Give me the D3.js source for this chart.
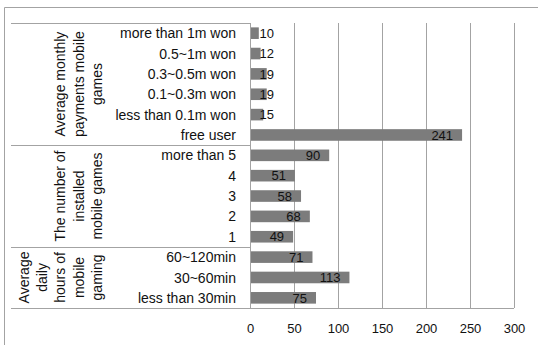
<!DOCTYPE html>
<html>
<head>
<meta charset="utf-8">
<script src="https://cdn.jsdelivr.net/npm/d3@7"></script>
<style>
  html, body { margin: 0; padding: 0; background: #fff; }
  svg { display: block; }
  text { font-family: "Liberation Sans", Arial, sans-serif; fill: #111; }
</style>
</head>
<body>
<svg id="chart" width="538" height="345"></svg>
<script>
// Survey results: three grouped question blocks
const paymentCats = ["more than 1m won", "0.5~1m won", "0.3~0.5m won", "0.1~0.3m won", "less than 0.1m won", "free user"];
const paymentVals = [10, 12, 19, 19, 15, 241];
const installCats = ["more than 5", "4", "3", "2", "1"];
const installVals = [90, 51, 58, 68, 49];
const hoursCats = ["60~120min", "30~60min", "less than 30min"];
const hoursVals = [71, 113, 75];
const groupTitles = [
  ["Average monthly", "payments mobile", "games"],
  ["The number of", "installed", "mobile games"],
  ["Average", "daily", "hours of", "mobile", "gaming"]
];
const xTicks = [0, 50, 100, 150, 200, 250, 300];

const groups = [
  { title: groupTitles[0], cats: paymentCats, vals: paymentVals },
  { title: groupTitles[1], cats: installCats, vals: installVals },
  { title: groupTitles[2], cats: hoursCats, vals: hoursVals }
];
const rows = [];
groups.forEach((g, gi) => g.cats.forEach((c, i) => rows.push({ key: gi + "|" + c, cat: c, value: g.vals[i], group: gi })));

const svg = d3.select("#chart");
const lineColor = "#a3a3a3";
const barColor = "#7c7c7c";

// Chart frame
svg.append("path")
  .attr("d", "M4.5,345 V7.5 H538")
  .attr("fill", "none").attr("stroke", lineColor).attr("stroke-width", 1);

const plotLeft = 250, plotRight = 514, plotTop = 23, plotBottom = 308;
const tableLeft = 11;

const x = d3.scaleLinear().domain([0, 300]).range([plotLeft, plotRight]);
const y = d3.scaleBand().domain(rows.map(r => r.key)).range([plotTop, plotBottom])
  .paddingInner(0.43).paddingOuter(0.215);

// Vertical gridlines
svg.append("g").selectAll("line").data(xTicks.slice(1)).join("line")
  .attr("x1", d => Math.round(x(d)) + 0.5).attr("x2", d => Math.round(x(d)) + 0.5)
  .attr("y1", plotTop).attr("y2", plotBottom)
  .attr("stroke", lineColor);

// Category table lines: top, group separators, bottom axis line
const step = y.step();
const sepYs = [plotTop];
let acc = 0;
groups.forEach(g => { acc += g.cats.length; sepYs.push(plotTop + acc * step); });
svg.append("g").selectAll("line").data(sepYs).join("line")
  .attr("x1", tableLeft)
  .attr("x2", (d, i) => i === sepYs.length - 1 ? plotRight : plotLeft)
  .attr("y1", d => Math.round(d) + 0.5).attr("y2", d => Math.round(d) + 0.5)
  .attr("stroke", lineColor);

// Value axis line (left)
svg.append("line")
  .attr("x1", plotLeft + 0.5).attr("x2", plotLeft + 0.5)
  .attr("y1", plotTop).attr("y2", plotBottom)
  .attr("stroke", lineColor);

// Bars
svg.append("g").selectAll("rect").data(rows).join("rect")
  .attr("x", x(0) + 1)
  .attr("y", d => y(d.key))
  .attr("width", d => x(d.value) - x(0) - 1)
  .attr("height", y.bandwidth())
  .attr("fill", barColor);

// Data labels, inside the bar end
svg.append("g").selectAll("text").data(rows).join("text")
  .attr("x", d => Math.max(x(d.value) - 9, x(0) + 24))
  .attr("y", d => y(d.key) + y.bandwidth() / 2)
  .attr("dy", "0.36em")
  .attr("text-anchor", "end")
  .style("font-size", "13px")
  .text(d => d.value);

// Category labels
svg.append("g").selectAll("text").data(rows).join("text")
  .attr("x", 236)
  .attr("y", d => y(d.key) + y.bandwidth() / 2)
  .attr("dy", "0.36em")
  .attr("text-anchor", "end")
  .style("font-size", "14px")
  .text(d => d.cat);

// Rotated group titles
const lineGap = 18.3;
const lastLineX = 97;
groups.forEach((g, gi) => {
  const y0 = sepYs[gi], y1 = sepYs[gi + 1];
  const cy = (y0 + y1) / 2;
  const n = g.title.length;
  const t = svg.append("text")
    .attr("transform", `translate(0,${cy}) rotate(-90)`)
    .attr("text-anchor", "middle")
    .style("font-size", "14px");
  g.title.forEach((line, i) => {
    t.append("tspan")
      .attr("x", 0)
      .attr("y", lastLineX - (n - 1 - i) * lineGap)
      .attr("dy", "0.36em")
      .text(line);
  });
});

// Value axis tick labels
const axis = d3.axisBottom(x).tickValues(xTicks).tickSize(0).tickPadding(0).tickFormat(d3.format("d"));
const ax = svg.append("g").attr("transform", `translate(0,${plotBottom})`).call(axis);
ax.select(".domain").remove();
ax.selectAll("text")
  .attr("y", 20)
  .attr("dy", "0.36em")
  .style("font-size", "13px")
  .style("font-family", "'Liberation Sans', Arial, sans-serif")
  .attr("fill", "#111");
</script>
</body>
</html>
